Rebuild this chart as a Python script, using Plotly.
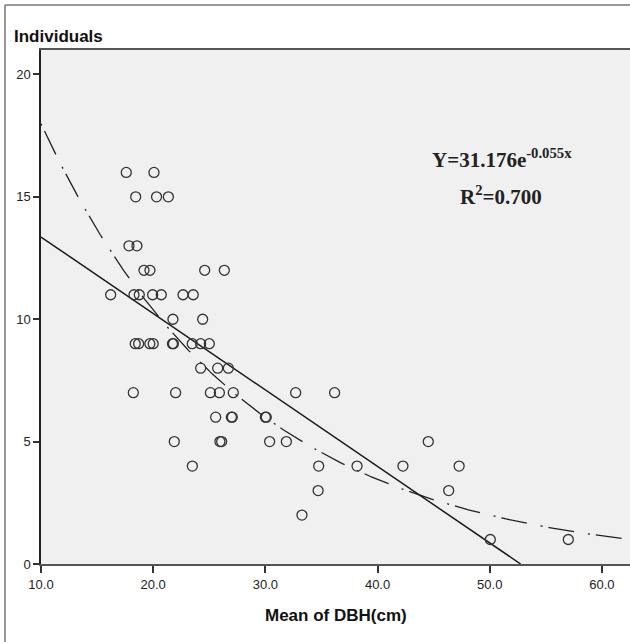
import numpy as np
import plotly.graph_objects as go

# Scatter data: mean DBH (cm) vs number of individuals
dbh = [17.6, 20.07,
       18.44, 20.3, 21.35,
       17.84, 18.55,
       19.18, 19.71, 24.59, 26.34,
       16.21, 18.29, 18.76, 19.95, 20.72, 22.66, 23.57,
       21.76, 24.41,
       18.4, 18.7, 19.7, 20.0, 21.72, 21.8, 23.48, 24.23, 25.0,
       24.23, 25.75, 26.7,
       18.23, 22.0, 25.1, 25.9, 27.14, 32.7, 36.17,
       25.57, 26.97, 27.05, 30.0, 30.08,
       21.88, 25.95, 26.1, 30.38, 31.87, 44.52,
       23.49, 34.75, 38.17, 42.26, 47.27,
       34.7, 46.34,
       33.26,
       50.05, 57.0]
individuals = [16, 16,
               15, 15, 15,
               13, 13,
               12, 12, 12, 12,
               11, 11, 11, 11, 11, 11, 11,
               10, 10,
               9, 9, 9, 9, 9, 9, 9, 9, 9,
               8, 8, 8,
               7, 7, 7, 7, 7, 7, 7,
               6, 6, 6, 6, 6,
               5, 5, 5, 5, 5, 5,
               4, 4, 4, 4, 4,
               3, 3,
               2,
               1, 1]

# Fitted curves
exp_a, exp_b = 31.176, -0.055          # Y = a * e^(b x)
lin_intercept, lin_slope = 16.485, -0.3125
x_min, x_max = 10.0, 62.5
y_min, y_max = 0.0, 21.0

x_ticks = [10, 20, 30, 40, 50, 60]
x_tick_labels = ["10.0", "20.0", "30.0", "40.0", "50.0", "60.0"]
y_ticks = [0, 5, 10, 15, 20]

xe = np.linspace(x_min, x_max, 300)
ye = exp_a * np.exp(exp_b * xe)
x_lin_end = -lin_intercept / lin_slope
xl = np.array([x_min, x_lin_end])
yl = lin_intercept + lin_slope * xl

fig = go.Figure()
fig.add_trace(go.Scatter(x=xe, y=ye, mode="lines",
                         line=dict(color="#222", width=1.3, dash="2px,6px,26px,14px"),
                         hoverinfo="skip", showlegend=False))
fig.add_trace(go.Scatter(x=xl, y=yl, mode="lines",
                         line=dict(color="#1a1a1a", width=1.5),
                         hoverinfo="skip", showlegend=False))
fig.add_trace(go.Scatter(x=dbh, y=individuals, mode="markers",
                         marker=dict(symbol="circle-open", size=10, color="#333",
                                     line=dict(width=1.3, color="#333")),
                         showlegend=False))

L, T, W, H = 41, 50, 630, 642
B = 564
pw, ph = W - L, B - T

def px(x):
    return (x - L) / pw

def py(y):
    return (B - y) / ph

fig.update_layout(
    width=W, height=H,
    margin=dict(l=L, r=0, t=T, b=H - B, pad=0),
    paper_bgcolor="white", plot_bgcolor="#f0f0f0",
    font=dict(family="Arial, Liberation Sans, sans-serif", color="#222", size=13),
    xaxis=dict(range=[x_min, x_max], tickvals=x_ticks, ticktext=x_tick_labels,
               showgrid=False, zeroline=False, showline=True, linecolor="#555",
               linewidth=2, mirror=True, ticks="outside", ticklen=7, tickwidth=1.5,
               tickcolor="#333", tickfont=dict(size=13, color="#222")),
    yaxis=dict(range=[y_min, y_max], tickvals=y_ticks,
               showgrid=False, zeroline=False, showline=True, linecolor="#222",
               linewidth=1.5, ticks="outside", ticklen=6, tickwidth=1.5,
               tickcolor="#333", tickfont=dict(size=13, color="#222")),
    shapes=[
        dict(type="line", xref="paper", yref="paper", x0=px(5), x1=px(5),
             y0=py(5), y1=py(H + 5), line=dict(color="#777", width=1.5)),
        dict(type="line", xref="paper", yref="paper", x0=px(5), x1=px(W + 5),
             y0=py(5), y1=py(5), line=dict(color="#777", width=1.5)),
    ],
    annotations=[
        dict(text="<b>Individuals</b>", xref="paper", yref="paper", x=px(12), y=py(36),
             xanchor="left", yanchor="middle", showarrow=False,
             font=dict(size=17, color="#111", family="Arial, Liberation Sans, sans-serif")),
        dict(text="<b>Mean of DBH(cm)</b>", xref="paper", yref="paper", x=0.5, y=py(615),
             xanchor="center", yanchor="middle", showarrow=False,
             font=dict(size=17, color="#111", family="Arial, Liberation Sans, sans-serif")),
        dict(text="<b>Y=31.176e<sup>-0.055x</sup></b>", xref="paper", yref="paper",
             x=px(502), y=py(158), xanchor="center", yanchor="middle", showarrow=False,
             font=dict(size=21, color="#222", family="Liberation Serif, Times New Roman, serif")),
        dict(text="<b>R<sup>2</sup>=0.700</b>", xref="paper", yref="paper",
             x=px(501), y=py(195), xanchor="center", yanchor="middle", showarrow=False,
             font=dict(size=21, color="#222", family="Liberation Serif, Times New Roman, serif")),
    ],
)

fig.write_html("out.html", config={"displayModeBar": False},
               post_script="document.body.style.margin='0';document.body.style.overflow='hidden';")
